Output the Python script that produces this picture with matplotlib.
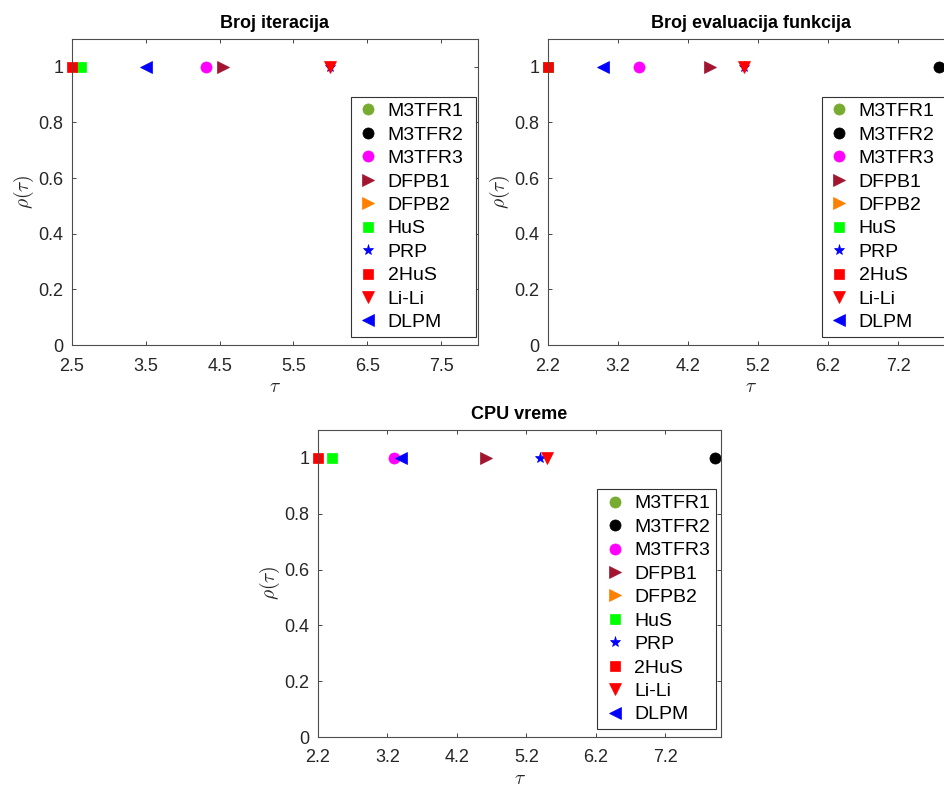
import numpy as np
import matplotlib
matplotlib.use("Agg")
import matplotlib.pyplot as plt

plt.rcParams['font.family'] = ['Liberation Sans', 'DejaVu Sans']
plt.rcParams['mathtext.fontset'] = 'cm'

solvers = ["M3TFR1", "M3TFR2", "M3TFR3", "DFPB1", "DFPB2", "HuS", "PRP", "2HuS", "Li-Li", "DLPM"]
markers = ["o", "o", "o", ">", ">", "s", "*", "s", "v", "<"]
colors = ["#77AC30", "#000000", "#FF00FF", "#A2142F", "#FF8000", "#00FF00", "#0000FF", "#FF0000", "#FF0000", "#0000FF"]
msizes = [8, 8, 8, 8, 8, 6.5, 8, 6.5, 8, 8]

titles = ["Broj iteracija", "Broj evaluacija funkcija", "CPU vreme"]

# tau at which each solver reaches rho = 1 (nan = outside visible range)
tau_iter = [np.nan, np.nan, 4.31, 4.54, np.nan, 2.62, 6.0, 2.5, 6.0, 3.5]
tau_feval = [np.nan, 7.79, 3.5, 4.51, np.nan, 2.2, 5.0, 2.2, 5.0, 2.98]
tau_cpu = [np.nan, 7.92, 3.29, 4.62, np.nan, 2.4, 5.4, 2.2, 5.5, 3.4]
rho = [1, 1, 1, 1, 1, 1, 1, 1, 1, 1]

xlims = [(2.5, 8.0), (2.2, 8.0), (2.2, 8.0)]
xticks = [[2.5, 3.5, 4.5, 5.5, 6.5, 7.5],
          [2.2, 3.2, 4.2, 5.2, 6.2, 7.2],
          [2.2, 3.2, 4.2, 5.2, 6.2, 7.2]]
xticklabels = [["2.5", "3.5", "4.5", "5.5", "6.5", "7.5"],
               ["2.2", "3.2", "4.2", "5.2", "6.2", "7.2"],
               ["2.2", "3.2", "4.2", "5.2", "6.2", "7.2"]]
yticks = [0, 0.2, 0.4, 0.6, 0.8, 1]
yticklabels = ["0", "0.2", "0.4", "0.6", "0.8", "1"]

fig = plt.figure(figsize=(9.44, 7.89), dpi=100)
W, H = 944, 789
rects = [(72, 39, 406, 306), (548, 39, 406, 306), (318, 430, 403, 307)]
legboxes = [(0.687, 0.026, 0.308, 0.8), (0.674, 0.026, 0.318, 0.8), (0.693, 0.025, 0.2945, 0.8)]
datasets = [tau_iter, tau_feval, tau_cpu]

axc = "#262626"
for k, (x0, y0, w, h) in enumerate(rects):
    ax = fig.add_axes([x0 / W, 1 - (y0 + h) / H, w / W, h / H])
    for i, name in enumerate(solvers):
        ax.plot([datasets[k][i]], [rho[i]], linestyle='none', marker=markers[i],
                color=colors[i], markersize=msizes[i], markeredgewidth=0.5,
                label=name, clip_on=False)
    ax.set_xlim(*xlims[k])
    ax.set_ylim(0, 1.1)
    ax.set_xticks(xticks[k])
    ax.set_xticklabels(xticklabels[k])
    ax.set_yticks(yticks)
    ax.set_yticklabels(yticklabels)
    ax.tick_params(direction='in', length=3, width=0.6, labelsize=13,
                   colors=axc, top=True, right=True)
    ax.tick_params(axis='x', pad=9)
    ax.tick_params(axis='y', pad=6)
    for s in ax.spines.values():
        s.set_color("#4d4d4d")
        s.set_linewidth(0.8)
    ax.set_title(titles[k], fontsize=13, fontweight='bold', pad=8, color='black')
    ax.set_xlabel(r'$\tau$', fontsize=14, color=axc, labelpad=3)
    ax.set_ylabel(r'$\rho(\tau)$', fontsize=14, color=axc, labelpad=2)
    leg = ax.legend(loc='lower left', bbox_to_anchor=legboxes[k], mode='expand',
                    fontsize=14, fancybox=False, framealpha=1, edgecolor='#333333',
                    handletextpad=0.4, labelspacing=0.30, borderpad=0.3,
                    handlelength=1.2, borderaxespad=0)
    leg.get_frame().set_linewidth(0.8)

fig.savefig("out.png", dpi=100)
